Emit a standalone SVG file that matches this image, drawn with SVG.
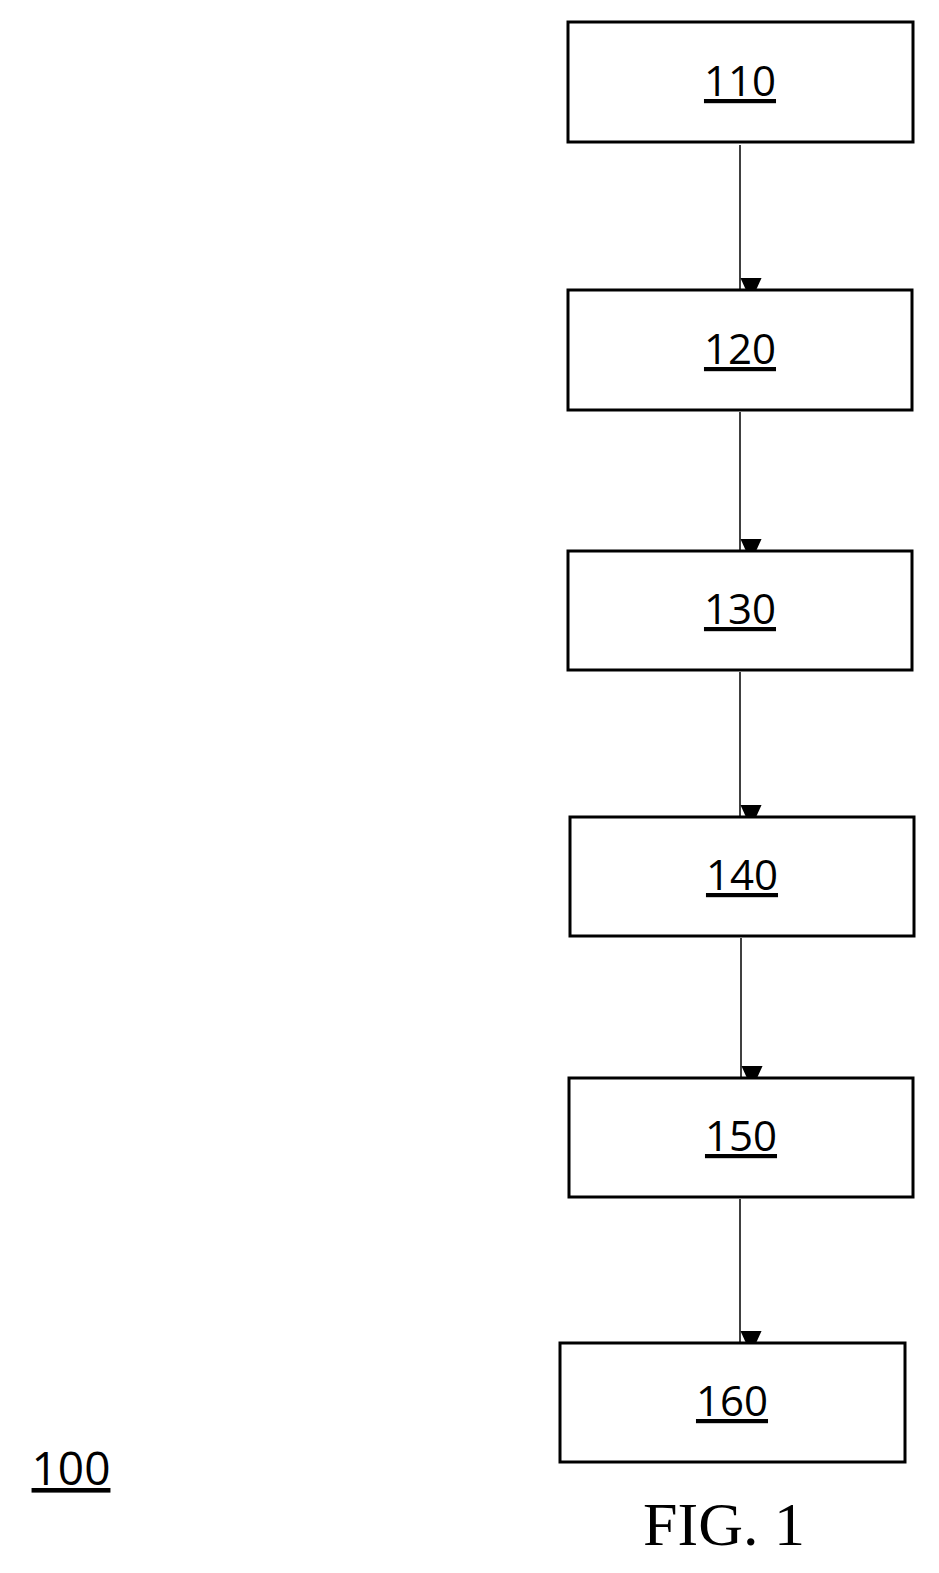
<svg xmlns="http://www.w3.org/2000/svg" width="939" height="1573" viewBox="0 0 939 1573">
<style>
.box{fill:#fff;stroke:#000;stroke-width:3}
.lbl{font-family:"Open Sans","Noto Sans",sans-serif;font-size:42px;text-anchor:middle;text-decoration:underline}
.con{stroke:#000;stroke-width:1.5;fill:none;marker-end:url(#ah)}
</style>
<defs><marker id="ah" markerUnits="userSpaceOnUse" markerWidth="22" markerHeight="24" refX="11" refY="24" orient="auto-start-reverse" viewBox="0 0 22 24"><path d="M0,0 L22,0 L11,24 Z" fill="#000" transform="rotate(-90 11 12) translate(-1 0)"/></marker></defs>
<rect width="939" height="1573" fill="#fff"/>
<g id="connectors">
<path class="con" d="M740,145 V289"/>
<path class="con" d="M740,412 V550"/>
<path class="con" d="M740,672 V816"/>
<path class="con" d="M741,938 V1077"/>
<path class="con" d="M740,1199 V1342"/>
</g>
<g id="n110"><rect class="box" x="568" y="22" width="345" height="120"/><text class="lbl" x="740" y="96">110</text></g>
<g id="n120"><rect class="box" x="568" y="290" width="344" height="120"/><text class="lbl" x="740" y="364">120</text></g>
<g id="n130"><rect class="box" x="568" y="551" width="344" height="119"/><text class="lbl" x="740" y="624">130</text></g>
<g id="n140"><rect class="box" x="570" y="817" width="344" height="119"/><text class="lbl" x="742" y="890">140</text></g>
<g id="n150"><rect class="box" x="569" y="1078" width="344" height="119"/><text class="lbl" x="741" y="1151">150</text></g>
<g id="n160"><rect class="box" x="560" y="1343" width="345" height="119"/><text class="lbl" x="732" y="1416">160</text></g>
<text class="lbl" x="71" y="1485" style="font-size:46px">100</text>
<text x="724" y="1545" style="font-family:'Liberation Serif',serif;font-size:62px;text-anchor:middle">FIG. 1</text>
</svg>
